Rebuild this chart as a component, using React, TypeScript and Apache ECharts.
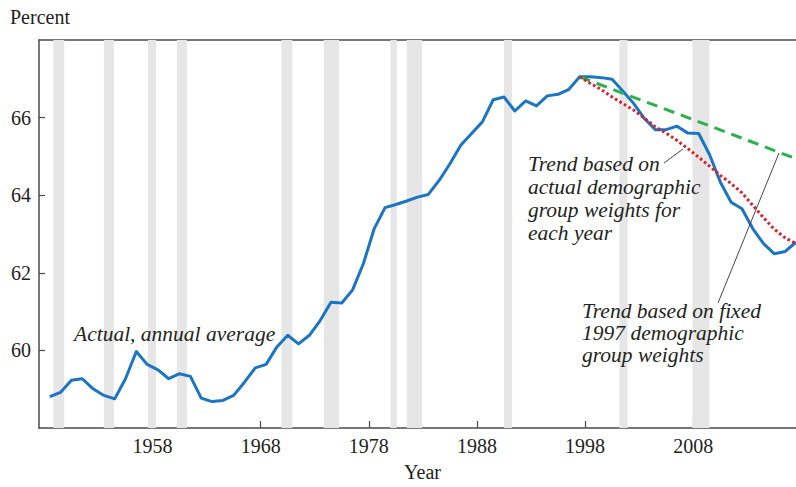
import React, { useEffect, useRef } from "react";
import * as echarts from "echarts";

// Annual average participation rate (percent), 1948-2017
const years: number[] = [];
for (let y = 1948; y <= 2017; y++) years.push(y);
const actual = [
  58.81, 58.92, 59.23, 59.27, 59.01, 58.84, 58.75, 59.27, 59.97, 59.64,
  59.5, 59.27, 59.4, 59.33, 58.77, 58.68, 58.71, 58.84, 59.18, 59.55,
  59.64, 60.09, 60.39, 60.17, 60.39, 60.77, 61.24, 61.22, 61.56, 62.24,
  63.14, 63.68, 63.76, 63.85, 63.95, 64.02, 64.38, 64.81, 65.29, 65.59,
  65.89, 66.46, 66.53, 66.17, 66.43, 66.3, 66.56, 66.6, 66.73, 67.05,
  67.05, 67.03, 66.99, 66.68, 66.36, 65.97, 65.69, 65.69, 65.78, 65.6,
  65.59, 65.05, 64.34, 63.82, 63.65, 63.14, 62.75, 62.49, 62.55, 62.79,
];

// Trend based on actual demographic group weights for each year
const trendActualYears = [
  1997, 1998, 1999, 2000, 2001, 2002, 2003, 2004, 2005, 2006, 2007,
  2008, 2009, 2010, 2011, 2012, 2013, 2014, 2015, 2016, 2017,
];
const trendActual = [
  67.05, 66.88, 66.72, 66.53, 66.36, 66.19, 65.98, 65.76, 65.6, 65.41, 65.2,
  64.98, 64.75, 64.51, 64.3, 64.06, 63.74, 63.42, 63.12, 62.9, 62.75,
];

// Trend based on fixed 1997 demographic group weights
const trendFixedYears = [1997, 2002, 2007, 2012, 2017];
const trendFixed = [67.05, 66.52, 66.0, 65.47, 64.94];

// Recessions (decimal years)
const recessionStart = [
  1948.83, 1953.5, 1957.58, 1960.25, 1969.92, 1973.83, 1980.0, 1981.5,
  1990.5, 2001.17, 2007.92,
];
const recessionEnd = [
  1949.83, 1954.42, 1958.33, 1961.17, 1970.92, 1975.25, 1980.58, 1982.92,
  1991.25, 2001.92, 2009.5,
];

const xTicks = [1958, 1968, 1978, 1988, 1998, 2008];
const yTicks = [60, 62, 64, 66];

const SERIF = "'Liberation Serif', 'Times New Roman', serif";

export default function App() {
  const ref = useRef<HTMLDivElement>(null);
  useEffect(() => {
    if (!ref.current) return;
    const chart = echarts.init(ref.current, null, { renderer: "svg" });
    const mid = (y: number) => y + 0.5;
    const axisColor = "#4a4a4a";
    const textColor = "#231f20";
    chart.setOption({
      animation: false,
      backgroundColor: "#ffffff",
      grid: { left: 39, right: 0, top: 40, bottom: 59, containLabel: false, outerBoundsMode: "none" },
      xAxis: [
        {
          type: "value",
          min: 1947.5,
          max: 2017.5,
          axisLine: { show: true, lineStyle: { color: axisColor, width: 1.5 } },
          axisTick: {
            show: true,
            inside: true,
            length: 7,
            customValues: xTicks,
            lineStyle: { color: axisColor, width: 1.2 },
          },
          axisLabel: {
            customValues: xTicks,
            formatter: (v: number) => String(v),
            fontFamily: SERIF,
            fontSize: 20,
            color: textColor,
            margin: 8,
          },
          splitLine: { show: false },
          name: "Year",
          nameLocation: "middle",
          nameGap: 34,
          nameTextStyle: { fontFamily: SERIF, fontSize: 20, color: textColor, padding: [0, 0, 0, 10] },
        },
        {
          type: "value",
          position: "top",
          min: 1947.5,
          max: 2017.5,
          axisLine: { show: true, onZero: false, lineStyle: { color: axisColor, width: 1.5 } },
          axisTick: { show: false },
          axisLabel: { show: false },
          splitLine: { show: false },
        },
      ],
      yAxis: {
        type: "value",
        min: 58,
        max: 68,
        interval: 2,
        axisLine: { show: true, lineStyle: { color: axisColor, width: 1.5 } },
        axisTick: {
          show: true,
          inside: true,
          length: 6,
          customValues: yTicks,
          lineStyle: { color: axisColor, width: 1.2 },
        },
        axisLabel: {
          customValues: yTicks,
          fontFamily: SERIF,
          fontSize: 20,
          color: textColor,
          margin: 8,
        },
        splitLine: { show: false },
      },
      series: [
        {
          type: "line",
          name: "recessions",
          data: [],
          z: 1,
          silent: true,
          markArea: {
            silent: true,
            itemStyle: { color: "#e6e6e6" },
            data: recessionStart.map((s, i) => [{ xAxis: s }, { xAxis: recessionEnd[i] }]),
          },
        },
        {
          type: "line",
          name: "Actual, annual average",
          data: years.map((y, i) => [mid(y), actual[i]]),
          showSymbol: false,
          z: 3,
          lineStyle: { color: "#1b75c3", width: 3, join: "round" },
        },
        {
          type: "line",
          name: "Trend based on fixed 1997 demographic group weights",
          data: trendFixedYears.map((y, i) => [mid(y), trendFixed[i]]),
          showSymbol: false,
          z: 4,
          lineStyle: { color: "#2bb34b", width: 3, type: [11, 7] },
        },
        {
          type: "line",
          name: "Trend based on actual demographic group weights for each year",
          data: trendActualYears.map((y, i) => [mid(y), trendActual[i]]),
          showSymbol: false,
          z: 5,
          lineStyle: { color: "#d7202a", width: 3, type: [2.6, 2.6] },
        },
      ],
      graphic: {
        elements: [
          {
            type: "text",
            left: 10,
            top: 7,
            z: 100,
            style: { text: "Percent", font: `20px ${SERIF}`, fill: textColor },
          },
          {
            type: "text",
            x: 74,
            y: 334,
            z: 100,
            style: {
              text: "Actual, annual average",
              font: `italic 21.5px ${SERIF}`,
              fill: textColor,
              verticalAlign: "middle",
            },
          },
          {
            type: "text",
            x: 528,
            y: 152,
            z: 100,
            style: {
              text: "Trend based on\nactual demographic\ngroup weights for\neach year",
              font: `italic 21.5px ${SERIF}`,
              lineHeight: 23,
              fill: textColor,
              verticalAlign: "top",
            },
          },
          {
            type: "text",
            x: 582,
            y: 300,
            z: 100,
            style: {
              text: "Trend based on fixed\n1997 demographic\ngroup weights",
              font: `italic 21.5px ${SERIF}`,
              lineHeight: 22,
              fill: textColor,
              verticalAlign: "top",
            },
          },
          {
            type: "line",
            z: 100,
            shape: { x1: 664, y1: 163, x2: 683, y2: 149 },
            style: { stroke: "#333", lineWidth: 0.9 },
          },
          {
            type: "line",
            z: 100,
            shape: { x1: 718, y1: 303, x2: 779, y2: 153 },
            style: { stroke: "#333", lineWidth: 0.9 },
          },
        ],
      },
    });
    return () => chart.dispose();
  }, []);
  return (
    <div
      ref={ref}
      style={{ position: "fixed", left: 0, top: 0, width: 796, height: 487 }}
    />
  );
}
